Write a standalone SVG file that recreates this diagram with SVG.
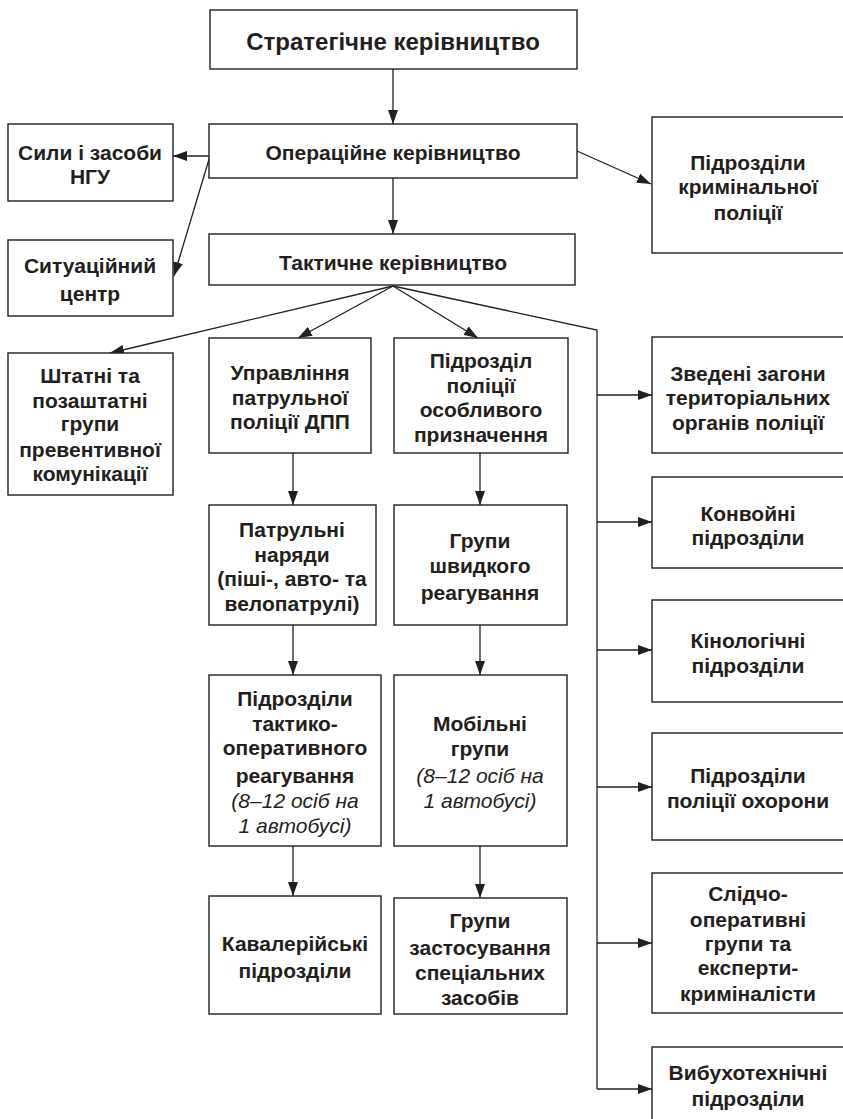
<svg xmlns="http://www.w3.org/2000/svg" width="843" height="1119" viewBox="0 0 843 1119">
<defs>
<marker id="ah" markerWidth="14" markerHeight="10" refX="14" refY="5" orient="auto" markerUnits="userSpaceOnUse">
<path d="M0,0 L14,5 L0,10 z" fill="#231f20"/>
</marker>
<style>
.box{fill:#fff;stroke:#231f20;stroke-width:1.4}
.t{font-family:"Liberation Sans",Arial,sans-serif;font-weight:bold;font-size:21px;fill:#231f20;text-anchor:middle}
.tl{font-size:24px}
.i{font-weight:normal;font-style:italic}
.c{fill:none;stroke:#231f20;stroke-width:1.3}
.a{marker-end:url(#ah)}
</style>
</defs>
<rect width="843" height="1119" fill="#fff"/>

<g id="connectors">
<line class="c a" x1="393" y1="69" x2="393" y2="124"/>
<line class="c a" x1="393" y1="178" x2="393" y2="234"/>
<line class="c a" x1="210" y1="156" x2="173" y2="156"/>
<line class="c a" x1="210" y1="156" x2="174" y2="276"/>
<line class="c a" x1="577" y1="151" x2="651" y2="184"/>
<line class="c a" x1="393" y1="286" x2="110" y2="353"/>
<line class="c a" x1="393" y1="286" x2="298" y2="338"/>
<line class="c a" x1="393" y1="286" x2="478" y2="338"/>
<polyline class="c" points="393,286 597,330 597,1089"/>
<line class="c a" x1="597" y1="395" x2="652" y2="395"/>
<line class="c a" x1="597" y1="522" x2="652" y2="522"/>
<line class="c a" x1="597" y1="650" x2="652" y2="650"/>
<line class="c a" x1="597" y1="787" x2="652" y2="787"/>
<line class="c a" x1="597" y1="943" x2="652" y2="943"/>
<line class="c a" x1="597" y1="1089" x2="652" y2="1089"/>
<line class="c a" x1="293" y1="453" x2="293" y2="505"/>
<line class="c a" x1="480" y1="453" x2="480" y2="505"/>
<line class="c a" x1="293" y1="625" x2="293" y2="675"/>
<line class="c a" x1="480" y1="625" x2="480" y2="675"/>
<line class="c a" x1="293" y1="846" x2="293" y2="896"/>
<line class="c a" x1="480" y1="846" x2="480" y2="898"/>
</g>

<g id="n-strat">
<rect class="box" x="210" y="10" width="367" height="59"/>
<text class="t tl" x="393" y="50">Стратегічне керівництво</text>
</g>
<g id="n-oper">
<rect class="box" x="209" y="124" width="368" height="54"/>
<text class="t" x="393" y="160">Операційне керівництво</text>
</g>
<g id="n-ngu">
<rect class="box" x="8" y="124" width="165" height="77"/>
<text class="t" x="90" y="160">Сили і засоби</text>
<text class="t" x="90" y="184">НГУ</text>
</g>
<g id="n-sit">
<rect class="box" x="8" y="240" width="165" height="76"/>
<text class="t" x="90" y="273">Ситуаційний</text>
<text class="t" x="90" y="301">центр</text>
</g>
<g id="n-krim">
<rect class="box" x="652" y="117" width="200" height="136"/>
<text class="t" x="748" y="170">Підрозділи</text>
<text class="t" x="748" y="194">кримінальної</text>
<text class="t" x="748" y="220">поліції</text>
</g>
<g id="n-takt">
<rect class="box" x="209" y="234" width="366" height="51"/>
<text class="t" x="393" y="270">Тактичне керівництво</text>
</g>
<g id="n-shtat">
<rect class="box" x="8" y="353" width="165" height="142"/>
<text class="t" x="90" y="383">Штатні та</text>
<text class="t" x="90" y="408">позаштатні</text>
<text class="t" x="90" y="431">групи</text>
<text class="t" x="90" y="457">превентивної</text>
<text class="t" x="90" y="481">комунікації</text>
</g>
<g id="n-upr">
<rect class="box" x="209" y="338" width="162" height="115"/>
<text class="t" x="290" y="380">Управління</text>
<text class="t" x="290" y="405">патрульної</text>
<text class="t" x="290" y="429">поліції ДПП</text>
</g>
<g id="n-kord">
<rect class="box" x="394" y="338" width="174" height="115"/>
<text class="t" x="481" y="368">Підрозділ</text>
<text class="t" x="481" y="393">поліції</text>
<text class="t" x="481" y="417">особливого</text>
<text class="t" x="481" y="442">призначення</text>
</g>
<g id="n-zved">
<rect class="box" x="652" y="337" width="200" height="116"/>
<text class="t" x="748" y="381">Зведені загони</text>
<text class="t" x="748" y="405">територіальних</text>
<text class="t" x="748" y="430">органів поліції</text>
</g>
<g id="n-patr">
<rect class="box" x="209" y="505" width="167" height="120"/>
<text class="t" x="292" y="537">Патрульні</text>
<text class="t" x="292" y="562">наряди</text>
<text class="t" x="292" y="586">(піші-, авто- та</text>
<text class="t" x="292" y="611">велопатрулі)</text>
</g>
<g id="n-shvyd">
<rect class="box" x="394" y="505" width="173" height="120"/>
<text class="t" x="480" y="548">Групи</text>
<text class="t" x="480" y="573">швидкого</text>
<text class="t" x="480" y="600">реагування</text>
</g>
<g id="n-konv">
<rect class="box" x="652" y="477" width="200" height="91"/>
<text class="t" x="748" y="521">Конвойні</text>
<text class="t" x="748" y="545">підрозділи</text>
</g>
<g id="n-kino">
<rect class="box" x="652" y="600" width="200" height="102"/>
<text class="t" x="748" y="648">Кінологічні</text>
<text class="t" x="748" y="673">підрозділи</text>
</g>
<g id="n-tor">
<rect class="box" x="209" y="675" width="172" height="171"/>
<text class="t" x="295" y="706">Підрозділи</text>
<text class="t" x="295" y="731">тактико-</text>
<text class="t" x="295" y="755">оперативного</text>
<text class="t" x="295" y="783">реагування</text>
<text class="t i" x="295" y="808">(8–12 осіб на</text>
<text class="t i" x="295" y="833">1 автобусі)</text>
</g>
<g id="n-mob">
<rect class="box" x="394" y="675" width="173" height="171"/>
<text class="t" x="480" y="731">Мобільні</text>
<text class="t" x="480" y="756">групи</text>
<text class="t i" x="480" y="783">(8–12 осіб на</text>
<text class="t i" x="480" y="808">1 автобусі)</text>
</g>
<g id="n-okh">
<rect class="box" x="652" y="733" width="200" height="107"/>
<text class="t" x="748" y="783">Підрозділи</text>
<text class="t" x="748" y="808">поліції охорони</text>
</g>
<g id="n-kav">
<rect class="box" x="209" y="896" width="172" height="118"/>
<text class="t" x="295" y="951">Кавалерійські</text>
<text class="t" x="295" y="978">підрозділи</text>
</g>
<g id="n-spets">
<rect class="box" x="394" y="898" width="173" height="116"/>
<text class="t" x="480" y="928">Групи</text>
<text class="t" x="480" y="955">застосування</text>
<text class="t" x="480" y="980">спеціальних</text>
<text class="t" x="480" y="1005">засобів</text>
</g>
<g id="n-slid">
<rect class="box" x="652" y="873" width="200" height="140"/>
<text class="t" x="748" y="901">Слідчо-</text>
<text class="t" x="748" y="927">оперативні</text>
<text class="t" x="748" y="951">групи та</text>
<text class="t" x="748" y="975">експерти-</text>
<text class="t" x="748" y="1001">криміналісти</text>
</g>
<g id="n-vyb">
<rect class="box" x="652" y="1047" width="200" height="90"/>
<text class="t" x="748" y="1080">Вибухотехнічні</text>
<text class="t" x="748" y="1106">підрозділи</text>
</g>
</svg>
